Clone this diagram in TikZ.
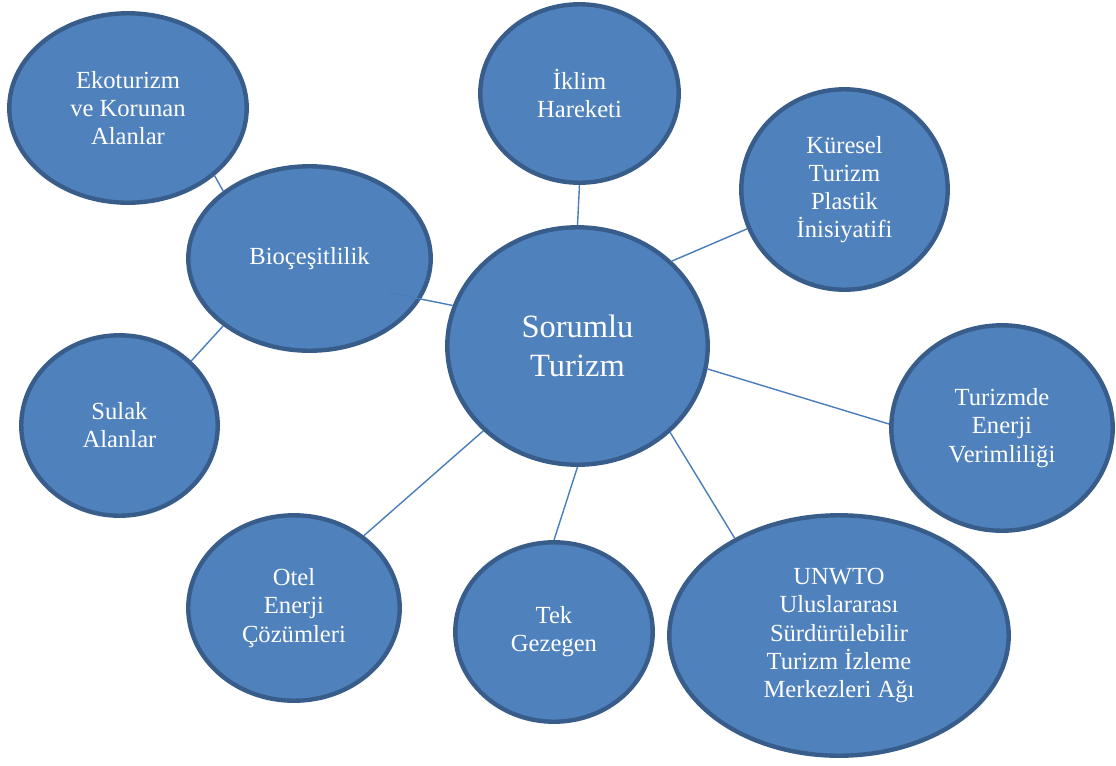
\documentclass[tikz,border=0pt]{standalone}
\usepackage{fontspec}
\setmainfont{Liberation Serif}
\usepackage{tikz}
\usetikzlibrary{shapes}
\usepackage{xcolor}

\definecolor{bubble}{HTML}{4F81BD}
\definecolor{bubbleedge}{HTML}{385D8A}
\definecolor{linkblue}{HTML}{4A7EBB}

\begin{document}
\begin{tikzpicture}[x=0.02cm, y=-0.02cm]
        % Define block styles
        \tikzstyle{topic} = [ellipse, draw=bubbleedge, fill=bubble, line width=2.5pt, inner sep=0pt, text=white, align=center, font=\fontsize{14}{16}\selectfont]
        \tikzstyle{line} = [draw=linkblue, line width=0.8pt]

        \useasboundingbox (0,0) rectangle (1116,765);

        % Define nodes
        \node [topic, minimum width=4.75cm, minimum height=3.79cm] (E) at (128,108) {Ekoturizm\\ve Korunan\\Alanlar};
        \node [topic, minimum width=3.97cm, minimum height=3.57cm] (K) at (579.5,93.5) {İklim\\Hareketi};
        \node [topic, minimum width=4.13cm, minimum height=4.01cm] (P) at (844.5,189.5) {Küresel\\Turizm\\Plastik\\İnisiyatifi};
        \node [topic, minimum width=4.85cm, minimum height=3.69cm] (B) at (309.5,258.5) {Bioçeşitlilik};
        \node [topic, minimum width=5.21cm, minimum height=4.75cm, font=\fontsize{18.5}{22}\selectfont] (S) at (577.5,346) {Sorumlu\\Turizm};
        \node [topic, minimum width=3.93cm, minimum height=3.61cm] (W) at (119.5,425.5) {Sulak\\Alanlar};
        \node [topic, minimum width=4.43cm, minimum height=4.11cm] (V) at (1002,428) {Turizmde\\Enerji\\Verimliliği};
        \node [topic, minimum width=4.23cm, minimum height=3.71cm] (O) at (294,608) {Otel\\Enerji\\Çözümleri};
        \node [topic, minimum width=3.95cm, minimum height=3.59cm] (G) at (554,632) {Tek\\Gezegen};
        \node [topic, minimum width=6.79cm, minimum height=4.81cm] (U) at (839,635.5) {UNWTO\\Uluslararası\\Sürdürülebilir\\Turizm İzleme\\Merkezleri Ağı};

        % Connect nodes with paths
        \path [line] (E.-38) -- (B.142);
        \path [line] (W.42) -- (B.218);
        \path [line, shorten >=-0.65cm] (S.162) -- (B.-20);
        \path [line] (K.-90) -- (S.90);
        \path [line] (S.42) -- (P.202);
        \path [line] (S.-10) -- (V.178.5);
        \path [line] (S.-43) -- (U.137.5);
        \path [line] (S.-90) -- (G.90);
        \path [line] (S.222) -- (O.46);

    \end{tikzpicture}
\end{document}
